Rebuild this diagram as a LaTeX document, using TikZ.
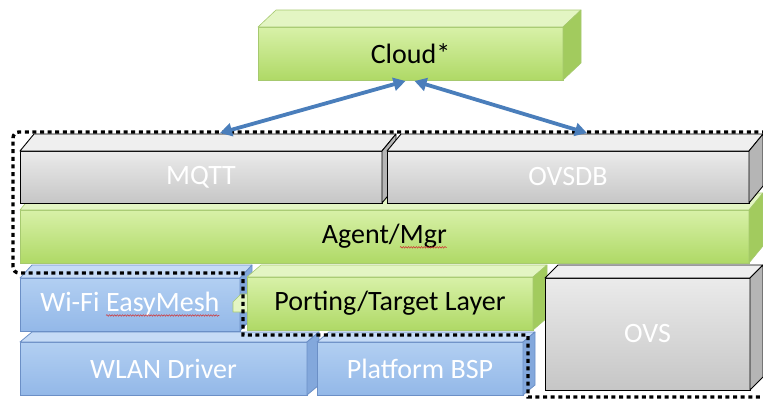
\documentclass[tikz,border=0pt]{standalone}
\usepackage{fontspec}
\setmainfont{Carlito}
\usetikzlibrary{arrows.meta,calc,decorations.pathmorphing}

% palette
\definecolor{gfronta}{HTML}{D8F1A8}
\definecolor{gfrontb}{HTML}{AFD966}
\definecolor{gtopc}{HTML}{E3F5C3}
\definecolor{gsidec}{HTML}{A2CB5E}
\definecolor{gline}{HTML}{A6C96F}
\definecolor{kfronta}{HTML}{EBEBEB}
\definecolor{kfrontb}{HTML}{C6C6C6}
\definecolor{ktopc}{HTML}{EFEFEF}
\definecolor{ksidec}{HTML}{B5B5B5}
\definecolor{bfronta}{HTML}{B2CFF2}
\definecolor{bfrontb}{HTML}{93B8E8}
\definecolor{btopc}{HTML}{C6DBF6}
\definecolor{bsidec}{HTML}{83A8DC}
\definecolor{bline}{HTML}{6B8FC6}
\definecolor{arrowblue}{HTML}{4A7EBB}
\definecolor{squigred}{HTML}{D03030}

% spell-check style wavy underline
\newcommand\squig[1]{\tikz[baseline=(sq.base)]{\node[inner sep=0pt,outer sep=0pt,
    minimum width=0pt,minimum height=0pt,anchor=center] (sq) {#1};
  \draw[squigred, line width=0.5pt, decorate, decoration={snake,amplitude=0.8pt,segment length=2.6pt}]
    ([yshift=-3.5pt]sq.base west) -- ([yshift=-3.5pt]sq.base east);}}

% top and side faces of a slab whose front face is node #1, depth (#2,#3)
\newcommand\slabfaces[4]{%
  \filldraw[#4top] (#1.north west) -- ++(#2,#3) -- ($(#1.north east)+(#2,#3)$) -- (#1.north east) -- cycle;
  \filldraw[#4side] (#1.north east) -- ++(#2,#3) -- ($(#1.south east)+(#2,#3)$) -- (#1.south east) -- cycle;
}

\begin{document}
\begin{tikzpicture}[x=1pt,y=-1pt,
  face/.style={anchor=north west, outer sep=0pt, inner sep=0pt, font=\fontsize{28}{32}\selectfont},
  greenface/.style={face, top color=gfronta, bottom color=gfrontb, draw=gline, line width=0.6pt, text=black},
  grayface/.style={face, top color=kfronta, bottom color=kfrontb, draw=black, line width=0.9pt, text=white},
  blueface/.style={face, top color=bfronta, bottom color=bfrontb, draw=bline, line width=0.8pt, text=white},
  greentop/.style={fill=gtopc, draw=gline, line width=0.6pt, line join=round},
  greenside/.style={fill=gsidec, draw=gline, line width=0.6pt, line join=round},
  graytop/.style={fill=ktopc, draw=black, line width=0.9pt, line join=round},
  grayside/.style={fill=ksidec, draw=black, line width=0.9pt, line join=round},
  bluetop/.style={fill=btopc, draw=bline, line width=0.8pt, line join=round},
  blueside/.style={fill=bsidec, draw=bline, line width=0.8pt, line join=round},
  dotline/.style={draw=black, line width=3.4pt, dash pattern=on 4pt off 3.6pt},
  link/.style={draw=arrowblue, line width=3.8pt,
    {Triangle[length=12pt,width=13pt]}-{Triangle[length=12pt,width=13pt]}}]

\useasboundingbox (0,0) rectangle (763,402);

% cloud
\node[greenface, minimum width=305pt, minimum height=53pt] (cloud) at (258,27) {Cloud*};
\slabfaces{cloud}{18}{-17}{green}

% agent / manager layer
\node[greenface, minimum width=729pt, minimum height=53pt] (agent) at (20,210) {Agent/\squig{Mgr}};
\slabfaces{agent}{14}{-17}{green}

% protocol blocks
\node[grayface, minimum width=362pt, minimum height=52pt] (mqtt) at (20,151) {MQTT};
\slabfaces{mqtt}{14}{-17}{gray}
\node[grayface, minimum width=362pt, minimum height=52pt] (ovsdb) at (387,151) {OVSDB};
\slabfaces{ovsdb}{14}{-17}{gray}

% middle row
\node[blueface, minimum width=220pt, minimum height=53pt] (wifi) at (20,278) {Wi-Fi \squig{EasyMesh}};
\slabfaces{wifi}{12}{-13}{blue}
\filldraw[greentop] (233,312) -- (233,302) -- (241,294) -- (248,294) -- (248,312) -- cycle;
\node[greenface, minimum width=286pt, minimum height=53pt] (porting) at (247,277) {Porting/Target Layer};
\slabfaces{porting}{14}{-12}{green}
\node[grayface, minimum width=205pt, minimum height=112pt] (ovs) at (545,278) {OVS};
\slabfaces{ovs}{13}{-13}{gray}

% bottom row
\node[blueface, minimum width=287pt, minimum height=53pt] (wlan) at (20,342) {WLAN Driver};
\slabfaces{wlan}{12}{-10}{blue}
\node[blueface, minimum width=206pt, minimum height=53pt] (bsp) at (317,342) {Platform BSP};
\slabfaces{bsp}{12}{-10}{blue}

% dotted boundary
\draw[dotline] (766,132) [rounded corners=6pt] -- (13,132) -- (13,273) [sharp corners] -- (243,273)
  -- (243,335) -- (528,335) -- (528,397) -- (766,397);

% links to the cloud
\coordinate (mqttin) at (220,133);
\coordinate (ovsdbin) at (587,133);
\draw[link] ([xshift=-5pt,yshift=-1pt]cloud.south) -- (mqttin);
\draw[link] ([xshift=4pt,yshift=-1pt]cloud.south) -- (ovsdbin);

\end{tikzpicture}
\end{document}
